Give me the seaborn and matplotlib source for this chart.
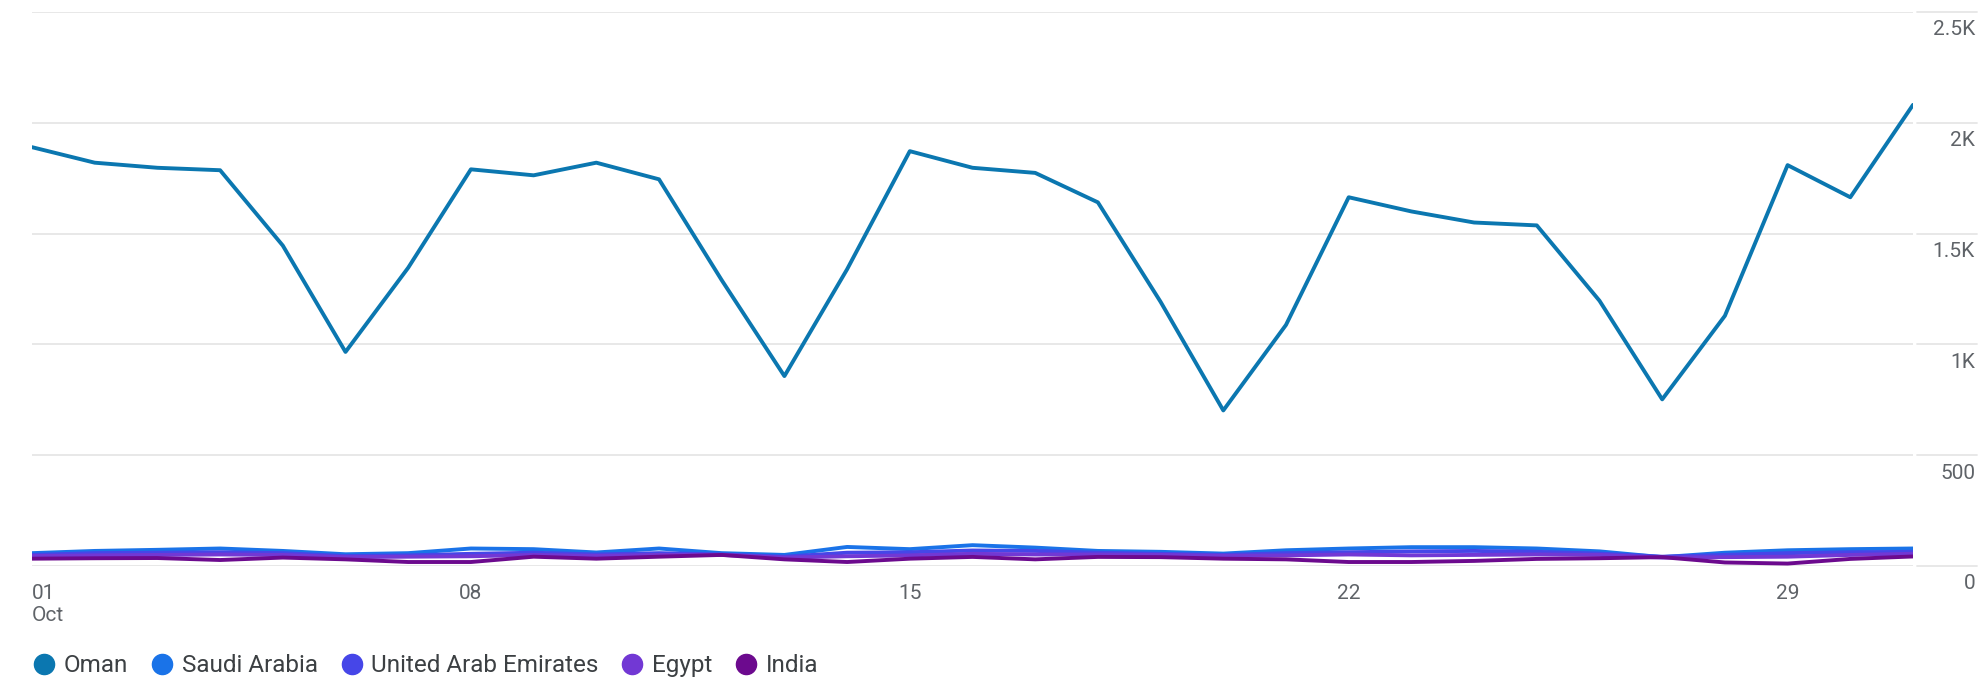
import matplotlib.pyplot as plt
import matplotlib.transforms as mtransforms
from matplotlib.lines import Line2D
import seaborn as sns
import pandas as pd

days = pd.date_range('2023-10-01', '2023-10-31')
countries = ['Oman', 'Saudi Arabia', 'United Arab Emirates', 'Egypt', 'India']
colors = ['#0b77b0', '#1a73e8', '#4646e8', '#7238d4', '#6c0a8e']

oman = [1890, 1820, 1797, 1786, 1446, 966, 1346, 1790, 1763, 1820, 1745, 1290, 857, 1339, 1872, 1797,
        1774, 1641, 1192, 702, 1088, 1664, 1600, 1550, 1537, 1197, 752, 1129, 1809, 1664, 2081]
saudi = [58, 68, 73, 79, 68, 53, 58, 79, 76, 61, 79, 58, 50, 86, 76, 94,
         83, 68, 64, 56, 71, 79, 85, 85, 79, 66, 40, 60, 71, 76, 79]
uae = [50, 58, 60, 62, 58, 45, 48, 55, 60, 52, 58, 52, 42, 60, 62, 70,
       68, 60, 55, 50, 58, 62, 66, 68, 64, 56, 42, 50, 58, 62, 64]
egypt = [45, 48, 50, 52, 50, 40, 42, 44, 50, 46, 50, 50, 38, 44, 48, 55,
         52, 52, 50, 46, 48, 52, 48, 50, 52, 50, 38, 40, 42, 50, 55]
india = [33, 35, 36, 27, 38, 30, 18, 18, 42, 33, 42, 50, 30, 18, 33, 41,
         30, 41, 40, 33, 30, 18, 18, 23, 32, 35, 40, 16, 11, 32, 43]

y_ticks = [0, 500, 1000, 1500, 2000, 2500]
y_labels = ['0', '500', '1K', '1.5K', '2K', '2.5K']
x_tick_days = [0, 7, 14, 21, 28]
x_labels = ['01\nOct', '08', '15', '22', '29']

series = [oman, saudi, uae, egypt, india]
df = pd.concat([pd.DataFrame({'date': days, 'value': vals, 'country': name})
                for name, vals in zip(countries, series)])

sns.set_style('white')
plt.rcParams['font.family'] = ['Roboto', 'DejaVu Sans']

W, H = 1985, 684
fig = plt.figure(figsize=(W / 100, H / 100), dpi=100)
ax = fig.add_axes([32 / W, 1 - 566 / H, (1913 - 32) / W, (566 - 12) / H])

sns.lineplot(data=df, x='date', y='value', hue='country', hue_order=countries,
             palette=dict(zip(countries, colors)), lw=2.8, legend=False, ax=ax)

ax.set_xlim(days[0], days[-1])
ax.set_ylim(0, 2500)
ax.set_xlabel('')
ax.set_ylabel('')
for s in ax.spines.values():
    s.set_visible(False)

grid_col = '#e6e6e6'
ax.set_yticks(y_ticks)
ax.set_yticklabels([])
ax.tick_params(axis='y', length=0)
ax.yaxis.grid(True, color=grid_col, lw=1.3)
ax.set_axisbelow(True)

ax.set_xticks([days[i] for i in x_tick_days])
ax.set_xticklabels(x_labels)
ax.tick_params(axis='x', length=9, width=1, color='#dadce0', labelsize=15,
               labelcolor='#5f6368', pad=4)
first = ax.get_xticklabels()[0]
first.set_ha('left')
first.set_multialignment('left')

# right-side label gutter: short grid segments and labels under each line
blend = mtransforms.blended_transform_factory(ax.transAxes, ax.transData)
for v, lab in zip(y_ticks, y_labels):
    ax.plot([1.002, 1.034], [v, v], transform=blend, clip_on=False, color=grid_col, lw=1.3)
    ax.annotate(lab, xy=(1975 / W, v), xycoords=('figure fraction', 'data'),
                xytext=(0, -6), textcoords='offset points', ha='right', va='top',
                fontsize=15, color='#5f6368')

handles = [Line2D([], [], marker='o', ls='none', ms=14.5, color=c) for c in colors]
leg = fig.legend(handles, countries, loc='lower left', bbox_to_anchor=(20 / W, -3 / H),
                 ncol=5, frameon=False, fontsize=17.5, handletextpad=0.2,
                 columnspacing=0.8, handlelength=1.2, borderaxespad=0)
for t in leg.get_texts():
    t.set_color('#3c4043')

fig.savefig('out.png', dpi=100)
